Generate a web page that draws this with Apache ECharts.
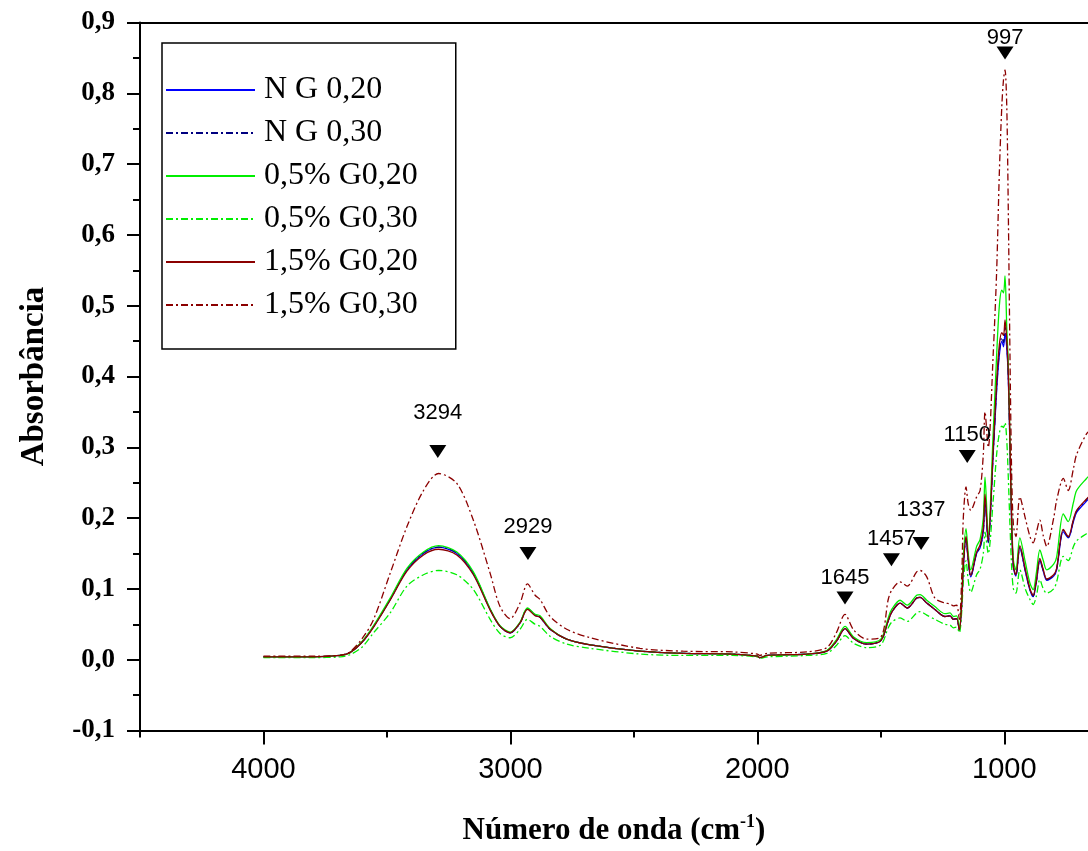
<!DOCTYPE html>
<html>
<head>
<meta charset="utf-8">
<script src="https://cdn.jsdelivr.net/npm/echarts@6/dist/echarts.min.js"></script>
<style>html,body{margin:0;padding:0;background:#fff}#chart{width:1088px;height:851px}</style>
</head>
<body>
<div id="chart"></div>
<script>
// ---- data ----
const wavenumbers = [4000,3800,3690,3650,3600,3554,3487,3419,3352,3291,3217,3150,3082,3042,3001,2961,2931,2900,2880,2839,2772,2677,2475,2300,2100,2000,1990,1960,1800,1719,1680,1645,1610,1557,1500,1470,1456,1422,1393,1355,1341,1314,1281,1240,1220,1206,1193,1182,1172,1166,1155,1146,1136,1112,1098,1085,1078,1065,1045,1031,1020,1010,1003,997,990,984,977,970,963,953,937,915,896,883,870,856,842,828,800,788,761,741,720,707,667,650];

const seriesNames = ['N G 0,20','N G 0,30','0,5% G0,20','0,5% G0,30','1,5% G0,20','1,5% G0,30'];

const ng020 = [0.004,0.004,0.006,0.010,0.025,0.047,0.085,0.127,0.150,0.159,0.150,0.122,0.071,0.047,0.038,0.052,0.072,0.063,0.060,0.043,0.029,0.021,0.012,0.009,0.008,0.005,0.003,0.006,0.008,0.012,0.026,0.044,0.030,0.022,0.027,0.055,0.067,0.080,0.073,0.087,0.088,0.080,0.071,0.061,0.062,0.057,0.058,0.042,0.080,0.130,0.170,0.140,0.117,0.150,0.158,0.180,0.225,0.165,0.290,0.380,0.430,0.450,0.442,0.461,0.440,0.400,0.300,0.190,0.130,0.118,0.158,0.125,0.098,0.089,0.110,0.140,0.125,0.112,0.118,0.127,0.181,0.172,0.195,0.208,0.224,0.230];

const ng030 = [0.004,0.004,0.006,0.010,0.025,0.047,0.085,0.127,0.151,0.159,0.151,0.122,0.071,0.047,0.038,0.052,0.072,0.063,0.060,0.043,0.029,0.021,0.012,0.009,0.008,0.005,0.003,0.006,0.008,0.012,0.026,0.044,0.030,0.022,0.027,0.055,0.067,0.080,0.073,0.087,0.088,0.080,0.071,0.061,0.062,0.057,0.058,0.042,0.081,0.131,0.172,0.141,0.118,0.151,0.159,0.182,0.228,0.166,0.292,0.384,0.436,0.455,0.448,0.470,0.446,0.404,0.302,0.191,0.131,0.119,0.159,0.126,0.099,0.090,0.111,0.141,0.126,0.113,0.119,0.128,0.183,0.173,0.197,0.210,0.226,0.232];

const g05_020 = [0.004,0.004,0.006,0.010,0.026,0.048,0.087,0.129,0.152,0.161,0.152,0.124,0.072,0.048,0.039,0.053,0.073,0.064,0.062,0.044,0.029,0.021,0.012,0.009,0.008,0.005,0.003,0.006,0.008,0.013,0.028,0.047,0.032,0.024,0.029,0.059,0.071,0.084,0.077,0.091,0.092,0.084,0.075,0.065,0.066,0.061,0.062,0.045,0.090,0.145,0.185,0.150,0.127,0.160,0.170,0.200,0.258,0.175,0.320,0.430,0.500,0.522,0.518,0.542,0.470,0.420,0.310,0.200,0.140,0.127,0.172,0.138,0.108,0.099,0.123,0.155,0.140,0.127,0.135,0.145,0.206,0.195,0.222,0.239,0.256,0.262];

const g05_030 = [0.003,0.003,0.004,0.007,0.018,0.038,0.066,0.104,0.120,0.126,0.120,0.099,0.057,0.037,0.031,0.043,0.057,0.050,0.047,0.033,0.022,0.016,0.008,0.006,0.006,0.004,0.002,0.004,0.006,0.009,0.020,0.034,0.023,0.017,0.021,0.045,0.053,0.059,0.054,0.066,0.068,0.063,0.057,0.050,0.049,0.045,0.046,0.038,0.070,0.110,0.140,0.112,0.095,0.120,0.128,0.150,0.180,0.150,0.225,0.290,0.320,0.330,0.328,0.335,0.310,0.260,0.190,0.130,0.100,0.094,0.127,0.100,0.085,0.078,0.090,0.113,0.100,0.094,0.100,0.110,0.146,0.140,0.160,0.168,0.178,0.182];

const g15_020 = [0.004,0.004,0.006,0.010,0.025,0.046,0.084,0.125,0.148,0.156,0.148,0.120,0.070,0.047,0.038,0.052,0.071,0.062,0.060,0.043,0.029,0.021,0.012,0.009,0.008,0.005,0.003,0.006,0.008,0.012,0.026,0.044,0.030,0.022,0.027,0.055,0.067,0.080,0.073,0.087,0.088,0.080,0.071,0.061,0.062,0.057,0.058,0.042,0.082,0.132,0.174,0.142,0.119,0.152,0.162,0.186,0.234,0.168,0.296,0.392,0.445,0.462,0.458,0.480,0.452,0.408,0.305,0.192,0.132,0.120,0.161,0.128,0.100,0.091,0.112,0.143,0.127,0.114,0.120,0.129,0.184,0.174,0.198,0.211,0.227,0.233];

const g15_030 = [0.005,0.005,0.006,0.011,0.030,0.057,0.122,0.188,0.239,0.263,0.249,0.197,0.122,0.075,0.058,0.080,0.107,0.091,0.085,0.061,0.043,0.031,0.016,0.012,0.011,0.008,0.006,0.009,0.011,0.017,0.038,0.064,0.042,0.029,0.032,0.085,0.098,0.110,0.104,0.124,0.126,0.117,0.087,0.080,0.079,0.076,0.077,0.057,0.120,0.200,0.244,0.220,0.211,0.230,0.239,0.290,0.350,0.300,0.431,0.548,0.688,0.782,0.820,0.833,0.782,0.641,0.431,0.260,0.190,0.174,0.230,0.200,0.174,0.165,0.180,0.197,0.175,0.160,0.200,0.225,0.256,0.239,0.270,0.290,0.319,0.325];

const peakLabels = ['3294','2929','1645','1457','1337','1150','997'];
const peakWaves  = [3294, 2929, 1645, 1457, 1337, 1150, 997];
const peakMarkY  = [0.294, 0.150, 0.087, 0.141, 0.164, 0.287, 0.857];
const peakTextY  = [0.349, 0.188, 0.116, 0.171, 0.212, 0.317, 0.878];

const xTickLabels = [1000, 2000, 3000, 4000];
const xMinorTicks = [1500, 2500, 3500, 4500];
const yTickLabels = ['-0,1','0,0','0,1','0,2','0,3','0,4','0,5','0,6','0,7','0,8','0,9'];

// ---- chart ----
const serif = '"Liberation Serif","Times New Roman",serif';
const sans = '"Liberation Sans",Arial,sans-serif';
const colors = ['#0000ff','#000080','#00ee00','#00ee00','#8b0000','#8b0000'];
const dashDot = [7,3,2,3];
const types = ['solid', dashDot, 'solid', dashDot, 'solid', dashDot];
const allData = [ng020, ng030, g05_020, g05_030, g15_020, g15_030];

const lineSeries = seriesNames.map((name, i) => ({
  name: name,
  type: 'line',
  xAxisIndex: 0, yAxisIndex: 0,
  data: wavenumbers.map((w, j) => [w, allData[i][j]]),
  showSymbol: false,
  symbol: 'none',
  smooth: 0.3,
  lineStyle: { color: colors[i], width: 1.3, type: types[i] },
  itemStyle: { color: colors[i] },
  z: 3
}));

const X_MIN = 661, X_MAX = 4500;

const chart = echarts.init(document.getElementById('chart'), null, {renderer: 'canvas'});
const axisColor = '#000';
const option = {
  animation: false,
  backgroundColor: '#fff',
  grid: { left: 140, top: 22.5, right: 0, height: 712.5, containLabel: false },
  legend: {
    orient: 'vertical',
    left: 162, top: 43,
    data: seriesNames,
    itemWidth: 89, itemHeight: 14,
    itemGap: 11,
    padding: [31, 38, 28, 3],
    borderColor: '#000', borderWidth: 1.5,
    backgroundColor: '#fff',
    itemStyle: { opacity: 0 },
    textStyle: { fontFamily: serif, fontSize: 32, color: '#000', lineHeight: 32, padding: [0,0,0,4] }
  },
  xAxis: [
    {
      type: 'value', inverse: true, min: X_MIN, max: X_MAX, position: 'bottom',
      axisLine: { show: true, onZero: false, lineStyle: { color: axisColor, width: 2 } },
      axisTick: { show: true, inside: false, length: 14, lineStyle: { width: 2 }, customValues: xTickLabels },
      axisLabel: { customValues: xTickLabels, margin: 25, fontFamily: sans, fontSize: 29, color: '#000',
                   formatter: v => String(v) },
      splitLine: { show: false },
      name: '{b|Número de onda (cm}{sup|-1}{b|)}',
      nameLocation: 'middle', nameGap: 83,
      nameTextStyle: {
        rich: {
          b: { fontFamily: serif, fontWeight: 'bold', fontSize: 31, color: '#000' },
          sup: { fontFamily: serif, fontWeight: 'bold', fontSize: 18, color: '#000', padding: [0,0,16,0] }
        }
      }
    },
    {
      type: 'value', inverse: true, min: X_MIN, max: X_MAX, position: 'bottom',
      axisLine: { show: false, onZero: false },
      axisTick: { show: true, inside: false, length: 7, lineStyle: { width: 2, color: axisColor }, customValues: xMinorTicks },
      axisLabel: { show: false },
      splitLine: { show: false }
    },
    {
      type: 'value', inverse: true, min: X_MIN, max: X_MAX, position: 'top',
      axisLine: { show: true, onZero: false, lineStyle: { color: axisColor, width: 2 } },
      axisTick: { show: false },
      axisLabel: { show: false },
      splitLine: { show: false }
    }
  ],
  yAxis: {
    type: 'value', min: -0.1, max: 0.9, interval: 0.1,
    axisLine: { show: true, onZero: false, lineStyle: { color: axisColor, width: 2 } },
    axisTick: { show: true, inside: false, length: 13, lineStyle: { width: 2 } },
    minorTick: { show: true, splitNumber: 2, length: 7, lineStyle: { width: 2, color: axisColor } },
    splitLine: { show: false },
    minorSplitLine: { show: false },
    axisLabel: {
      margin: 25, fontFamily: serif, fontWeight: 'bold', fontSize: 27, color: '#000',
      formatter: v => yTickLabels[Math.round((v + 0.1) * 10)] || ''
    },
    name: 'Absorbância',
    nameLocation: 'middle', nameGap: 89,
    nameTextStyle: { fontFamily: serif, fontWeight: 'bold', fontSize: 33, color: '#000' }
  },
  series: lineSeries.concat([
    {
      name: 'peakMarkers',
      type: 'scatter',
      data: peakWaves.map((w, i) => [w, peakMarkY[i]]),
      symbol: 'triangle', symbolRotate: 180, symbolSize: [17, 13],
      itemStyle: { color: '#000', opacity: 1 },
      silent: true, z: 5
    },
    {
      name: 'peakText',
      type: 'scatter',
      data: peakWaves.map((w, i) => ({ value: [w, peakTextY[i]], name: peakLabels[i] })),
      symbolSize: 0,
      itemStyle: { opacity: 1 },
      label: { show: true, position: 'inside', formatter: p => p.name,
               fontFamily: sans, fontSize: 22, color: '#000', opacity: 1 },
      silent: true, z: 5
    }
  ])
};
chart.setOption(option);
</script>
</body>
</html>
